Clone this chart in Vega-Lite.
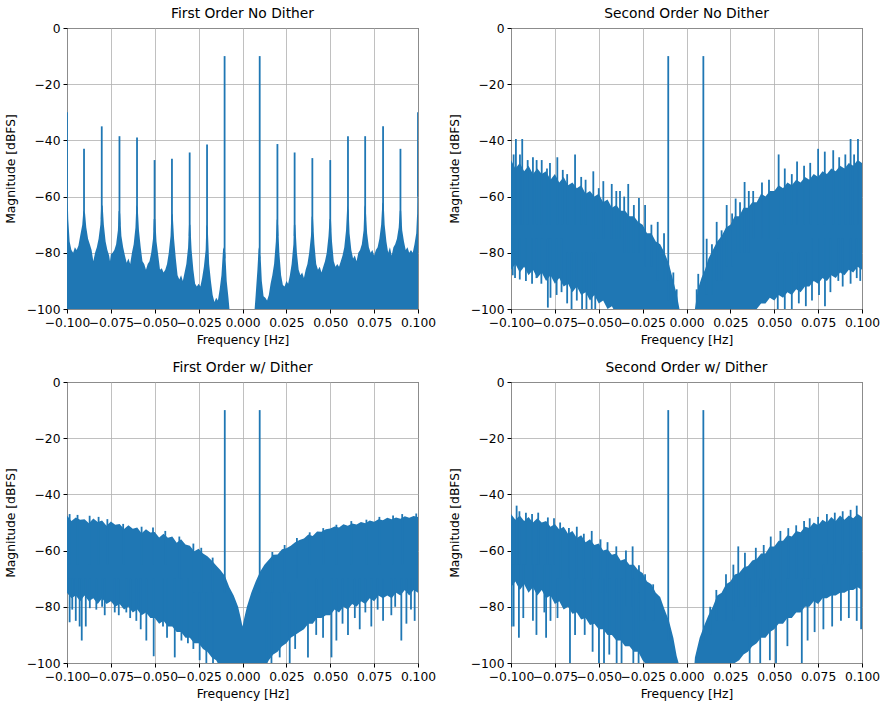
{
"$schema": "https://vega.github.io/schema/vega-lite/v6.json",
"background": "white",
"padding": {"left": 3, "top": 6, "right": 2, "bottom": 3},
"datasets": {
"band": [
{"p":1,"f":-0.1,"hi":-30,"lo":-101},{"p":1,"f":-0.0997,"hi":-58,"lo":-101},{"p":1,"f":-0.0993,"hi":-68,"lo":-101},{"p":1,"f":-0.0985,"hi":-76,"lo":-101},{"p":1,"f":-0.0975,"hi":-79,"lo":-101},{"p":1,"f":-0.0965,"hi":-80,"lo":-101},{"p":1,"f":-0.0955,"hi":-78,"lo":-101},{"p":1,"f":-0.0945,"hi":-79,"lo":-101},{"p":1,"f":-0.0935,"hi":-77.5,"lo":-101},{"p":1,"f":-0.0925,"hi":-74,"lo":-101},{"p":1,"f":-0.0913,"hi":-70,"lo":-101},{"p":1,"f":-0.0907,"hi":-65,"lo":-101},{"p":1,"f":-0.0897,"hi":-66,"lo":-101},{"p":1,"f":-0.089,"hi":-71,"lo":-101},{"p":1,"f":-0.088,"hi":-75,"lo":-101},{"p":1,"f":-0.087,"hi":-77,"lo":-101},{"p":1,"f":-0.086,"hi":-79,"lo":-101},{"p":1,"f":-0.085,"hi":-83,"lo":-101},{"p":1,"f":-0.084,"hi":-80,"lo":-101},{"p":1,"f":-0.083,"hi":-78,"lo":-101},{"p":1,"f":-0.082,"hi":-75,"lo":-101},{"p":1,"f":-0.081,"hi":-70,"lo":-101},{"p":1,"f":-0.0806,"hi":-64,"lo":-101},{"p":1,"f":-0.0797,"hi":-63,"lo":-101},{"p":1,"f":-0.079,"hi":-70,"lo":-101},{"p":1,"f":-0.078,"hi":-76,"lo":-101},{"p":1,"f":-0.077,"hi":-79,"lo":-101},{"p":1,"f":-0.076,"hi":-81,"lo":-101},{"p":1,"f":-0.0755,"hi":-83,"lo":-101},{"p":1,"f":-0.075,"hi":-80.5,"lo":-101},{"p":1,"f":-0.074,"hi":-80,"lo":-101},{"p":1,"f":-0.073,"hi":-79,"lo":-101},{"p":1,"f":-0.072,"hi":-77,"lo":-101},{"p":1,"f":-0.071,"hi":-72,"lo":-101},{"p":1,"f":-0.0706,"hi":-65,"lo":-101},{"p":1,"f":-0.0697,"hi":-66,"lo":-101},{"p":1,"f":-0.069,"hi":-74,"lo":-101},{"p":1,"f":-0.068,"hi":-78,"lo":-101},{"p":1,"f":-0.067,"hi":-81,"lo":-101},{"p":1,"f":-0.066,"hi":-83.5,"lo":-101},{"p":1,"f":-0.065,"hi":-82,"lo":-101},{"p":1,"f":-0.064,"hi":-84,"lo":-101},{"p":1,"f":-0.063,"hi":-80,"lo":-101},{"p":1,"f":-0.062,"hi":-77,"lo":-101},{"p":1,"f":-0.061,"hi":-71,"lo":-101},{"p":1,"f":-0.0605,"hi":-63,"lo":-101},{"p":1,"f":-0.0597,"hi":-64,"lo":-101},{"p":1,"f":-0.059,"hi":-72,"lo":-101},{"p":1,"f":-0.058,"hi":-78,"lo":-101},{"p":1,"f":-0.057,"hi":-83,"lo":-101},{"p":1,"f":-0.056,"hi":-84,"lo":-101},{"p":1,"f":-0.055,"hi":-86,"lo":-101},{"p":1,"f":-0.054,"hi":-84,"lo":-101},{"p":1,"f":-0.053,"hi":-83,"lo":-101},{"p":1,"f":-0.052,"hi":-80,"lo":-101},{"p":1,"f":-0.051,"hi":-75,"lo":-101},{"p":1,"f":-0.0506,"hi":-68,"lo":-101},{"p":1,"f":-0.0497,"hi":-68,"lo":-101},{"p":1,"f":-0.049,"hi":-76,"lo":-101},{"p":1,"f":-0.048,"hi":-81,"lo":-101},{"p":1,"f":-0.047,"hi":-86,"lo":-101},{"p":1,"f":-0.046,"hi":-85.5,"lo":-101},{"p":1,"f":-0.045,"hi":-87,"lo":-101},{"p":1,"f":-0.044,"hi":-86,"lo":-101},{"p":1,"f":-0.043,"hi":-84,"lo":-101},{"p":1,"f":-0.042,"hi":-80,"lo":-101},{"p":1,"f":-0.041,"hi":-74,"lo":-101},{"p":1,"f":-0.0406,"hi":-67,"lo":-101},{"p":1,"f":-0.0398,"hi":-66,"lo":-101},{"p":1,"f":-0.039,"hi":-75,"lo":-101},{"p":1,"f":-0.038,"hi":-82,"lo":-101},{"p":1,"f":-0.037,"hi":-88,"lo":-101},{"p":1,"f":-0.036,"hi":-89.5,"lo":-101},{"p":1,"f":-0.035,"hi":-88,"lo":-101},{"p":1,"f":-0.034,"hi":-90,"lo":-101},{"p":1,"f":-0.033,"hi":-87,"lo":-101},{"p":1,"f":-0.032,"hi":-84,"lo":-101},{"p":1,"f":-0.031,"hi":-78,"lo":-101},{"p":1,"f":-0.0305,"hi":-70,"lo":-101},{"p":1,"f":-0.0297,"hi":-70,"lo":-101},{"p":1,"f":-0.029,"hi":-79,"lo":-101},{"p":1,"f":-0.028,"hi":-86,"lo":-101},{"p":1,"f":-0.027,"hi":-91,"lo":-101},{"p":1,"f":-0.026,"hi":-92,"lo":-101},{"p":1,"f":-0.025,"hi":-91,"lo":-101},{"p":1,"f":-0.024,"hi":-92,"lo":-101},{"p":1,"f":-0.023,"hi":-89,"lo":-101},{"p":1,"f":-0.022,"hi":-85,"lo":-101},{"p":1,"f":-0.021,"hi":-79,"lo":-101},{"p":1,"f":-0.0206,"hi":-70,"lo":-101},{"p":1,"f":-0.0198,"hi":-71,"lo":-101},{"p":1,"f":-0.019,"hi":-84,"lo":-101},{"p":1,"f":-0.018,"hi":-90,"lo":-101},{"p":1,"f":-0.017,"hi":-95,"lo":-101},{"p":1,"f":-0.016,"hi":-97.5,"lo":-101},{"p":1,"f":-0.015,"hi":-96,"lo":-101},{"p":1,"f":-0.014,"hi":-97,"lo":-101},{"p":1,"f":-0.013,"hi":-93,"lo":-101},{"p":1,"f":-0.012,"hi":-88,"lo":-101},{"p":1,"f":-0.011,"hi":-78,"lo":-101},{"p":1,"f":-0.0098,"hi":-80,"lo":-101},{"p":1,"f":-0.009,"hi":-90,"lo":-101},{"p":1,"f":-0.008,"hi":-96,"lo":-101},{"p":1,"f":-0.0073,"hi":-101,"lo":-101},{"p":1,"f":0.0068,"hi":-101,"lo":-101},{"p":1,"f":0.0075,"hi":-95,"lo":-101},{"p":1,"f":0.0085,"hi":-86,"lo":-101},{"p":1,"f":0.0092,"hi":-78,"lo":-101},{"p":1,"f":0.0104,"hi":-82,"lo":-101},{"p":1,"f":0.011,"hi":-90,"lo":-101},{"p":1,"f":0.012,"hi":-95.5,"lo":-101},{"p":1,"f":0.013,"hi":-96,"lo":-101},{"p":1,"f":0.014,"hi":-97,"lo":-101},{"p":1,"f":0.015,"hi":-95,"lo":-101},{"p":1,"f":0.016,"hi":-91,"lo":-101},{"p":1,"f":0.017,"hi":-88,"lo":-101},{"p":1,"f":0.018,"hi":-84,"lo":-101},{"p":1,"f":0.019,"hi":-76,"lo":-101},{"p":1,"f":0.0195,"hi":-68,"lo":-101},{"p":1,"f":0.0203,"hi":-70,"lo":-101},{"p":1,"f":0.021,"hi":-80,"lo":-101},{"p":1,"f":0.022,"hi":-88,"lo":-101},{"p":1,"f":0.023,"hi":-91.5,"lo":-101},{"p":1,"f":0.024,"hi":-92,"lo":-101},{"p":1,"f":0.025,"hi":-90,"lo":-101},{"p":1,"f":0.026,"hi":-91,"lo":-101},{"p":1,"f":0.027,"hi":-88,"lo":-101},{"p":1,"f":0.028,"hi":-84,"lo":-101},{"p":1,"f":0.029,"hi":-77,"lo":-101},{"p":1,"f":0.0293,"hi":-70,"lo":-101},{"p":1,"f":0.0301,"hi":-70,"lo":-101},{"p":1,"f":0.031,"hi":-80,"lo":-101},{"p":1,"f":0.032,"hi":-86,"lo":-101},{"p":1,"f":0.033,"hi":-88,"lo":-101},{"p":1,"f":0.034,"hi":-87,"lo":-101},{"p":1,"f":0.035,"hi":-89,"lo":-101},{"p":1,"f":0.036,"hi":-86,"lo":-101},{"p":1,"f":0.037,"hi":-84,"lo":-101},{"p":1,"f":0.038,"hi":-80,"lo":-101},{"p":1,"f":0.039,"hi":-74,"lo":-101},{"p":1,"f":0.0394,"hi":-67,"lo":-101},{"p":1,"f":0.0402,"hi":-68,"lo":-101},{"p":1,"f":0.041,"hi":-77,"lo":-101},{"p":1,"f":0.042,"hi":-84,"lo":-101},{"p":1,"f":0.043,"hi":-86,"lo":-101},{"p":1,"f":0.044,"hi":-85,"lo":-101},{"p":1,"f":0.045,"hi":-87,"lo":-101},{"p":1,"f":0.046,"hi":-85,"lo":-101},{"p":1,"f":0.047,"hi":-83,"lo":-101},{"p":1,"f":0.048,"hi":-80,"lo":-101},{"p":1,"f":0.049,"hi":-74,"lo":-101},{"p":1,"f":0.0496,"hi":-68,"lo":-101},{"p":1,"f":0.0504,"hi":-68,"lo":-101},{"p":1,"f":0.051,"hi":-76,"lo":-101},{"p":1,"f":0.052,"hi":-83,"lo":-101},{"p":1,"f":0.053,"hi":-85,"lo":-101},{"p":1,"f":0.054,"hi":-84,"lo":-101},{"p":1,"f":0.055,"hi":-85,"lo":-101},{"p":1,"f":0.056,"hi":-83,"lo":-101},{"p":1,"f":0.057,"hi":-81,"lo":-101},{"p":1,"f":0.058,"hi":-78,"lo":-101},{"p":1,"f":0.059,"hi":-72,"lo":-101},{"p":1,"f":0.0597,"hi":-63,"lo":-101},{"p":1,"f":0.0605,"hi":-65,"lo":-101},{"p":1,"f":0.061,"hi":-73,"lo":-101},{"p":1,"f":0.062,"hi":-79,"lo":-101},{"p":1,"f":0.063,"hi":-82,"lo":-101},{"p":1,"f":0.064,"hi":-81,"lo":-101},{"p":1,"f":0.065,"hi":-83,"lo":-101},{"p":1,"f":0.066,"hi":-80,"lo":-101},{"p":1,"f":0.067,"hi":-79,"lo":-101},{"p":1,"f":0.068,"hi":-77,"lo":-101},{"p":1,"f":0.069,"hi":-72,"lo":-101},{"p":1,"f":0.0695,"hi":-63,"lo":-101},{"p":1,"f":0.0703,"hi":-65,"lo":-101},{"p":1,"f":0.071,"hi":-73,"lo":-101},{"p":1,"f":0.072,"hi":-78,"lo":-101},{"p":1,"f":0.073,"hi":-80,"lo":-101},{"p":1,"f":0.074,"hi":-79,"lo":-101},{"p":1,"f":0.075,"hi":-81,"lo":-101},{"p":1,"f":0.076,"hi":-79,"lo":-101},{"p":1,"f":0.077,"hi":-78,"lo":-101},{"p":1,"f":0.078,"hi":-75,"lo":-101},{"p":1,"f":0.079,"hi":-70,"lo":-101},{"p":1,"f":0.0797,"hi":-62,"lo":-101},{"p":1,"f":0.0805,"hi":-63,"lo":-101},{"p":1,"f":0.081,"hi":-70,"lo":-101},{"p":1,"f":0.082,"hi":-76,"lo":-101},{"p":1,"f":0.083,"hi":-80,"lo":-101},{"p":1,"f":0.084,"hi":-78,"lo":-101},{"p":1,"f":0.085,"hi":-81,"lo":-101},{"p":1,"f":0.086,"hi":-78,"lo":-101},{"p":1,"f":0.087,"hi":-77,"lo":-101},{"p":1,"f":0.088,"hi":-75,"lo":-101},{"p":1,"f":0.089,"hi":-71,"lo":-101},{"p":1,"f":0.0896,"hi":-65,"lo":-101},{"p":1,"f":0.0904,"hi":-65,"lo":-101},{"p":1,"f":0.091,"hi":-72,"lo":-101},{"p":1,"f":0.092,"hi":-76,"lo":-101},{"p":1,"f":0.093,"hi":-79,"lo":-101},{"p":1,"f":0.094,"hi":-78,"lo":-101},{"p":1,"f":0.095,"hi":-80,"lo":-101},{"p":1,"f":0.096,"hi":-79,"lo":-101},{"p":1,"f":0.097,"hi":-80,"lo":-101},{"p":1,"f":0.098,"hi":-77,"lo":-101},{"p":1,"f":0.099,"hi":-73,"lo":-101},{"p":1,"f":0.0995,"hi":-66,"lo":-101},{"p":1,"f":0.1,"hi":-30,"lo":-101},

{"p":2,"f":-0.1,"hi":-47,"lo":-86},{"p":2,"f":-0.0975,"hi":-50,"lo":-84},{"p":2,"f":-0.095,"hi":-48,"lo":-87},{"p":2,"f":-0.0925,"hi":-51,"lo":-85},{"p":2,"f":-0.09,"hi":-49,"lo":-88},{"p":2,"f":-0.0875,"hi":-52,"lo":-86},{"p":2,"f":-0.085,"hi":-50,"lo":-89},{"p":2,"f":-0.0825,"hi":-52,"lo":-87},{"p":2,"f":-0.08,"hi":-51,"lo":-90},{"p":2,"f":-0.0775,"hi":-54,"lo":-88},{"p":2,"f":-0.075,"hi":-52,"lo":-91},{"p":2,"f":-0.0725,"hi":-55,"lo":-89},{"p":2,"f":-0.07,"hi":-53,"lo":-92},{"p":2,"f":-0.0675,"hi":-56,"lo":-91},{"p":2,"f":-0.065,"hi":-55,"lo":-94},{"p":2,"f":-0.0625,"hi":-57,"lo":-92},{"p":2,"f":-0.06,"hi":-56,"lo":-95},{"p":2,"f":-0.0575,"hi":-59,"lo":-94},{"p":2,"f":-0.055,"hi":-58,"lo":-97},{"p":2,"f":-0.0525,"hi":-60,"lo":-95},{"p":2,"f":-0.05,"hi":-59,"lo":-98},{"p":2,"f":-0.0475,"hi":-62,"lo":-97},{"p":2,"f":-0.045,"hi":-61,"lo":-100},{"p":2,"f":-0.0425,"hi":-64,"lo":-99},{"p":2,"f":-0.04,"hi":-63,"lo":-102},{"p":2,"f":-0.0375,"hi":-65,"lo":-104},{"p":2,"f":-0.035,"hi":-65,"lo":-105},{"p":2,"f":-0.0325,"hi":-67,"lo":-105},{"p":2,"f":-0.03,"hi":-67,"lo":-105},{"p":2,"f":-0.0275,"hi":-69,"lo":-105},{"p":2,"f":-0.025,"hi":-70,"lo":-105},{"p":2,"f":-0.0225,"hi":-73,"lo":-105},{"p":2,"f":-0.02,"hi":-73,"lo":-105},{"p":2,"f":-0.0175,"hi":-76,"lo":-105},{"p":2,"f":-0.015,"hi":-77,"lo":-105},{"p":2,"f":-0.0125,"hi":-80,"lo":-105},{"p":2,"f":-0.01,"hi":-84,"lo":-105},{"p":2,"f":-0.0075,"hi":-90,"lo":-105},{"p":2,"f":-0.0055,"hi":-95,"lo":-105},{"p":2,"f":-0.004,"hi":-100,"lo":-105},{"p":2,"f":-0.0035,"hi":-105,"lo":-105},{"p":2,"f":0.004,"hi":-105,"lo":-105},{"p":2,"f":0.0048,"hi":-100,"lo":-105},{"p":2,"f":0.0065,"hi":-93,"lo":-105},{"p":2,"f":0.0085,"hi":-89,"lo":-105},{"p":2,"f":0.0105,"hi":-86,"lo":-105},{"p":2,"f":0.0125,"hi":-82,"lo":-105},{"p":2,"f":0.015,"hi":-79,"lo":-105},{"p":2,"f":0.0175,"hi":-76,"lo":-105},{"p":2,"f":0.02,"hi":-74,"lo":-105},{"p":2,"f":0.0225,"hi":-71,"lo":-105},{"p":2,"f":0.025,"hi":-70,"lo":-105},{"p":2,"f":0.0275,"hi":-67,"lo":-105},{"p":2,"f":0.03,"hi":-67,"lo":-105},{"p":2,"f":0.0325,"hi":-64,"lo":-105},{"p":2,"f":0.035,"hi":-64,"lo":-104},{"p":2,"f":0.0375,"hi":-62,"lo":-101},{"p":2,"f":0.04,"hi":-62,"lo":-100},{"p":2,"f":0.0425,"hi":-59,"lo":-98},{"p":2,"f":0.045,"hi":-60,"lo":-98},{"p":2,"f":0.0475,"hi":-58,"lo":-96},{"p":2,"f":0.05,"hi":-58,"lo":-97},{"p":2,"f":0.0525,"hi":-56,"lo":-95},{"p":2,"f":0.055,"hi":-57,"lo":-96},{"p":2,"f":0.0575,"hi":-55,"lo":-94},{"p":2,"f":0.06,"hi":-56,"lo":-95},{"p":2,"f":0.0625,"hi":-54,"lo":-93},{"p":2,"f":0.065,"hi":-55,"lo":-94},{"p":2,"f":0.0675,"hi":-53,"lo":-92},{"p":2,"f":0.07,"hi":-54,"lo":-92},{"p":2,"f":0.0725,"hi":-52,"lo":-90},{"p":2,"f":0.075,"hi":-53,"lo":-91},{"p":2,"f":0.0775,"hi":-51,"lo":-89},{"p":2,"f":0.08,"hi":-52,"lo":-90},{"p":2,"f":0.0825,"hi":-50,"lo":-88},{"p":2,"f":0.085,"hi":-51,"lo":-89},{"p":2,"f":0.0875,"hi":-49,"lo":-87},{"p":2,"f":0.09,"hi":-50,"lo":-88},{"p":2,"f":0.0925,"hi":-48,"lo":-86},{"p":2,"f":0.095,"hi":-49,"lo":-87},{"p":2,"f":0.0975,"hi":-47,"lo":-85},{"p":2,"f":0.1,"hi":-48,"lo":-86},

{"p":3,"f":-0.1,"hi":-47.5,"lo":-75},{"p":3,"f":-0.0975,"hi":-49.5,"lo":-77},{"p":3,"f":-0.095,"hi":-48.2,"lo":-76},{"p":3,"f":-0.0925,"hi":-49,"lo":-78},{"p":3,"f":-0.09,"hi":-48.8,"lo":-76},{"p":3,"f":-0.0875,"hi":-50.3,"lo":-78},{"p":3,"f":-0.085,"hi":-48.6,"lo":-77},{"p":3,"f":-0.0825,"hi":-49.8,"lo":-79},{"p":3,"f":-0.08,"hi":-49.3,"lo":-77},{"p":3,"f":-0.0775,"hi":-51.2,"lo":-79},{"p":3,"f":-0.075,"hi":-49.6,"lo":-78},{"p":3,"f":-0.0725,"hi":-50.8,"lo":-80},{"p":3,"f":-0.07,"hi":-50.5,"lo":-79},{"p":3,"f":-0.0675,"hi":-52.3,"lo":-81},{"p":3,"f":-0.065,"hi":-51,"lo":-80},{"p":3,"f":-0.0625,"hi":-52.2,"lo":-82},{"p":3,"f":-0.06,"hi":-51.8,"lo":-81},{"p":3,"f":-0.0575,"hi":-53.8,"lo":-83},{"p":3,"f":-0.055,"hi":-52.4,"lo":-82},{"p":3,"f":-0.0525,"hi":-53.6,"lo":-84},{"p":3,"f":-0.05,"hi":-53.4,"lo":-84},{"p":3,"f":-0.0475,"hi":-55.3,"lo":-86},{"p":3,"f":-0.045,"hi":-54,"lo":-85},{"p":3,"f":-0.0425,"hi":-55.4,"lo":-87},{"p":3,"f":-0.04,"hi":-55,"lo":-87},{"p":3,"f":-0.0375,"hi":-57.2,"lo":-89},{"p":3,"f":-0.035,"hi":-56,"lo":-89},{"p":3,"f":-0.0325,"hi":-57.8,"lo":-91},{"p":3,"f":-0.03,"hi":-58.3,"lo":-91},{"p":3,"f":-0.0275,"hi":-60.2,"lo":-93},{"p":3,"f":-0.025,"hi":-59.3,"lo":-93},{"p":3,"f":-0.0225,"hi":-61,"lo":-95},{"p":3,"f":-0.02,"hi":-62,"lo":-96},{"p":3,"f":-0.0175,"hi":-63.5,"lo":-98},{"p":3,"f":-0.015,"hi":-65.3,"lo":-99},{"p":3,"f":-0.0125,"hi":-67,"lo":-102},{"p":3,"f":-0.01,"hi":-69,"lo":-105},{"p":3,"f":-0.0075,"hi":-73,"lo":-105},{"p":3,"f":-0.005,"hi":-76,"lo":-105},{"p":3,"f":-0.0025,"hi":-80,"lo":-105},{"p":3,"f":-0.001,"hi":-84,"lo":-105},{"p":3,"f":0,"hi":-87,"lo":-105},{"p":3,"f":0.001,"hi":-84,"lo":-105},{"p":3,"f":0.0025,"hi":-80,"lo":-105},{"p":3,"f":0.005,"hi":-75,"lo":-105},{"p":3,"f":0.0075,"hi":-71,"lo":-105},{"p":3,"f":0.01,"hi":-67.5,"lo":-105},{"p":3,"f":0.0125,"hi":-65,"lo":-102},{"p":3,"f":0.015,"hi":-63.3,"lo":-99},{"p":3,"f":0.0175,"hi":-61.5,"lo":-97},{"p":3,"f":0.02,"hi":-61.4,"lo":-96},{"p":3,"f":0.0225,"hi":-59.5,"lo":-94},{"p":3,"f":0.025,"hi":-59.2,"lo":-93},{"p":3,"f":0.0275,"hi":-58.3,"lo":-91},{"p":3,"f":0.03,"hi":-57,"lo":-90},{"p":3,"f":0.0325,"hi":-56.2,"lo":-89},{"p":3,"f":0.035,"hi":-55.7,"lo":-88},{"p":3,"f":0.0375,"hi":-54.3,"lo":-86},{"p":3,"f":0.04,"hi":-54.8,"lo":-86},{"p":3,"f":0.0425,"hi":-53.2,"lo":-84},{"p":3,"f":0.045,"hi":-53.3,"lo":-84},{"p":3,"f":0.0475,"hi":-52.4,"lo":-83},{"p":3,"f":0.05,"hi":-52.1,"lo":-83},{"p":3,"f":0.0525,"hi":-51.4,"lo":-81},{"p":3,"f":0.055,"hi":-51.8,"lo":-82},{"p":3,"f":0.0575,"hi":-50.6,"lo":-80},{"p":3,"f":0.06,"hi":-51.2,"lo":-81},{"p":3,"f":0.0625,"hi":-50.4,"lo":-79},{"p":3,"f":0.065,"hi":-50.7,"lo":-80},{"p":3,"f":0.0675,"hi":-49.8,"lo":-78},{"p":3,"f":0.07,"hi":-50.3,"lo":-79},{"p":3,"f":0.0725,"hi":-49.3,"lo":-77},{"p":3,"f":0.075,"hi":-49.7,"lo":-78},{"p":3,"f":0.0775,"hi":-48.8,"lo":-76},{"p":3,"f":0.08,"hi":-49.2,"lo":-77},{"p":3,"f":0.0825,"hi":-48.3,"lo":-76},{"p":3,"f":0.085,"hi":-48.8,"lo":-77},{"p":3,"f":0.0875,"hi":-48.2,"lo":-75},{"p":3,"f":0.09,"hi":-48.7,"lo":-76},{"p":3,"f":0.0925,"hi":-47.8,"lo":-74},{"p":3,"f":0.095,"hi":-48.3,"lo":-76},{"p":3,"f":0.0975,"hi":-47.7,"lo":-74},{"p":3,"f":0.1,"hi":-48,"lo":-75},

{"p":4,"f":-0.1,"hi":-47,"lo":-73},{"p":4,"f":-0.0975,"hi":-49,"lo":-71},{"p":4,"f":-0.095,"hi":-47.5,"lo":-74},{"p":4,"f":-0.0925,"hi":-49.5,"lo":-72},{"p":4,"f":-0.09,"hi":-48,"lo":-75},{"p":4,"f":-0.0875,"hi":-50,"lo":-73},{"p":4,"f":-0.085,"hi":-48.5,"lo":-76},{"p":4,"f":-0.0825,"hi":-50,"lo":-74},{"p":4,"f":-0.08,"hi":-49.5,"lo":-77},{"p":4,"f":-0.0775,"hi":-51.5,"lo":-76},{"p":4,"f":-0.075,"hi":-50.5,"lo":-79},{"p":4,"f":-0.0725,"hi":-52.5,"lo":-78},{"p":4,"f":-0.07,"hi":-51.5,"lo":-81},{"p":4,"f":-0.0675,"hi":-54,"lo":-80},{"p":4,"f":-0.065,"hi":-53,"lo":-82.5},{"p":4,"f":-0.0625,"hi":-55.5,"lo":-82},{"p":4,"f":-0.06,"hi":-54.5,"lo":-84.5},{"p":4,"f":-0.0575,"hi":-57,"lo":-84},{"p":4,"f":-0.055,"hi":-56,"lo":-86.5},{"p":4,"f":-0.0525,"hi":-58,"lo":-86},{"p":4,"f":-0.05,"hi":-57.5,"lo":-88},{"p":4,"f":-0.0475,"hi":-60,"lo":-88},{"p":4,"f":-0.045,"hi":-59.5,"lo":-90},{"p":4,"f":-0.0425,"hi":-61.5,"lo":-90},{"p":4,"f":-0.04,"hi":-61,"lo":-92},{"p":4,"f":-0.0375,"hi":-63.5,"lo":-92},{"p":4,"f":-0.035,"hi":-63,"lo":-94},{"p":4,"f":-0.0325,"hi":-65,"lo":-94},{"p":4,"f":-0.03,"hi":-65,"lo":-96},{"p":4,"f":-0.0275,"hi":-67,"lo":-96},{"p":4,"f":-0.025,"hi":-68,"lo":-99},{"p":4,"f":-0.0225,"hi":-71,"lo":-101},{"p":4,"f":-0.02,"hi":-72,"lo":-104},{"p":4,"f":-0.0175,"hi":-75,"lo":-105},{"p":4,"f":-0.015,"hi":-76.5,"lo":-105},{"p":4,"f":-0.0125,"hi":-81,"lo":-105},{"p":4,"f":-0.01,"hi":-85,"lo":-105},{"p":4,"f":-0.0075,"hi":-91,"lo":-105},{"p":4,"f":-0.0056,"hi":-97.5,"lo":-105},{"p":4,"f":-0.0045,"hi":-100,"lo":-105},{"p":4,"f":-0.004,"hi":-105,"lo":-105},{"p":4,"f":0.004,"hi":-105,"lo":-105},{"p":4,"f":0.0048,"hi":-98,"lo":-105},{"p":4,"f":0.0075,"hi":-91,"lo":-105},{"p":4,"f":0.0105,"hi":-86,"lo":-105},{"p":4,"f":0.0125,"hi":-83,"lo":-105},{"p":4,"f":0.015,"hi":-80,"lo":-105},{"p":4,"f":0.0175,"hi":-76,"lo":-105},{"p":4,"f":0.02,"hi":-75,"lo":-105},{"p":4,"f":0.0225,"hi":-72,"lo":-105},{"p":4,"f":0.025,"hi":-71,"lo":-102},{"p":4,"f":0.0275,"hi":-68.5,"lo":-100},{"p":4,"f":0.03,"hi":-68,"lo":-99},{"p":4,"f":0.0325,"hi":-66,"lo":-97},{"p":4,"f":0.035,"hi":-65.5,"lo":-96},{"p":4,"f":0.0375,"hi":-63.5,"lo":-94},{"p":4,"f":0.04,"hi":-63,"lo":-93},{"p":4,"f":0.0425,"hi":-61,"lo":-91},{"p":4,"f":0.045,"hi":-61,"lo":-91},{"p":4,"f":0.0475,"hi":-58.5,"lo":-89},{"p":4,"f":0.05,"hi":-58.5,"lo":-88},{"p":4,"f":0.0525,"hi":-56.5,"lo":-86},{"p":4,"f":0.055,"hi":-56.5,"lo":-86},{"p":4,"f":0.0575,"hi":-54.5,"lo":-84},{"p":4,"f":0.06,"hi":-55,"lo":-84},{"p":4,"f":0.0625,"hi":-53,"lo":-82},{"p":4,"f":0.065,"hi":-53.5,"lo":-82},{"p":4,"f":0.0675,"hi":-51.5,"lo":-80},{"p":4,"f":0.07,"hi":-52,"lo":-80},{"p":4,"f":0.0725,"hi":-50,"lo":-78},{"p":4,"f":0.075,"hi":-51,"lo":-79},{"p":4,"f":0.0775,"hi":-49,"lo":-77},{"p":4,"f":0.08,"hi":-50,"lo":-77},{"p":4,"f":0.0825,"hi":-48,"lo":-76},{"p":4,"f":0.085,"hi":-49.5,"lo":-76},{"p":4,"f":0.0875,"hi":-47.5,"lo":-75},{"p":4,"f":0.09,"hi":-49,"lo":-75},{"p":4,"f":0.0925,"hi":-47.5,"lo":-74},{"p":4,"f":0.095,"hi":-48.5,"lo":-74},{"p":4,"f":0.0975,"hi":-47,"lo":-73},{"p":4,"f":0.1,"hi":-48,"lo":-74}
],
"spk": [
{"p":1,"f":-0.1,"top":-30,"bot":-60},{"p":1,"f":-0.0903,"top":-43,"bot":-70},{"p":1,"f":-0.0802,"top":-35,"bot":-68},{"p":1,"f":-0.0701,"top":-38.5,"bot":-70},{"p":1,"f":-0.0601,"top":-39,"bot":-68},{"p":1,"f":-0.0501,"top":-47,"bot":-72},{"p":1,"f":-0.0402,"top":-46.5,"bot":-72},{"p":1,"f":-0.0301,"top":-44.3,"bot":-74},{"p":1,"f":-0.0202,"top":-41.5,"bot":-76},{"p":1,"f":-0.0102,"top":-10,"bot":-82},{"p":1,"f":0.0098,"top":-10,"bot":-82},{"p":1,"f":0.0199,"top":-41.3,"bot":-74},{"p":1,"f":0.0297,"top":-44.3,"bot":-74},{"p":1,"f":0.0398,"top":-46.3,"bot":-72},{"p":1,"f":0.05,"top":-47,"bot":-72},{"p":1,"f":0.0601,"top":-38.5,"bot":-68},{"p":1,"f":0.0699,"top":-38.5,"bot":-68},{"p":1,"f":0.0801,"top":-35,"bot":-66},{"p":1,"f":0.09,"top":-43,"bot":-70},{"p":1,"f":0.1,"top":-30,"bot":-60},

{"p":2,"f":-0.0104,"top":-10,"bot":-97},{"p":2,"f":0.0096,"top":-10,"bot":-90},
{"p":2,"f":-0.0985,"top":-45,"bot":-70},{"p":2,"f":-0.0972,"top":-39.5,"bot":-70},{"p":2,"f":-0.0949,"top":-45,"bot":-70},{"p":2,"f":-0.0936,"top":-39.5,"bot":-70},{"p":2,"f":-0.0905,"top":-47,"bot":-70},{"p":2,"f":-0.0875,"top":-46,"bot":-70},{"p":2,"f":-0.0854,"top":-47,"bot":-70},{"p":2,"f":-0.0825,"top":-47,"bot":-70},{"p":2,"f":-0.0795,"top":-50,"bot":-70},{"p":2,"f":-0.0778,"top":-48,"bot":-70},{"p":2,"f":-0.0736,"top":-46,"bot":-70},{"p":2,"f":-0.0705,"top":-50.5,"bot":-70},{"p":2,"f":-0.068,"top":-52,"bot":-70},{"p":2,"f":-0.0635,"top":-45,"bot":-70},{"p":2,"f":-0.06,"top":-53,"bot":-70},{"p":2,"f":-0.0575,"top":-54,"bot":-70},{"p":2,"f":-0.0531,"top":-51,"bot":-75},{"p":2,"f":-0.05,"top":-57,"bot":-75},{"p":2,"f":-0.0474,"top":-54.5,"bot":-75},{"p":2,"f":-0.0426,"top":-55.5,"bot":-75},{"p":2,"f":-0.04,"top":-58,"bot":-75},{"p":2,"f":-0.0379,"top":-58,"bot":-75},{"p":2,"f":-0.0355,"top":-60,"bot":-80},{"p":2,"f":-0.0332,"top":-55.5,"bot":-80},{"p":2,"f":-0.03,"top":-63,"bot":-80},{"p":2,"f":-0.0271,"top":-60.5,"bot":-80},{"p":2,"f":-0.0236,"top":-63,"bot":-85},{"p":2,"f":-0.02,"top":-70,"bot":-85},{"p":2,"f":-0.0164,"top":-69,"bot":-90},{"p":2,"f":-0.0128,"top":-73,"bot":-90},{"p":2,"f":-0.0075,"top":-87,"bot":-100},{"p":2,"f":-0.0056,"top":-93,"bot":-100},
{"p":2,"f":0.0058,"top":-93,"bot":-100},{"p":2,"f":0.0067,"top":-87.5,"bot":-100},{"p":2,"f":0.0115,"top":-75,"bot":-95},{"p":2,"f":0.0145,"top":-77,"bot":-95},{"p":2,"f":0.0172,"top":-69,"bot":-90},{"p":2,"f":0.02,"top":-72,"bot":-90},{"p":2,"f":0.0229,"top":-63,"bot":-85},{"p":2,"f":0.026,"top":-66,"bot":-85},{"p":2,"f":0.028,"top":-60.7,"bot":-80},{"p":2,"f":0.0305,"top":-62,"bot":-80},{"p":2,"f":0.0331,"top":-54.8,"bot":-80},{"p":2,"f":0.0355,"top":-58,"bot":-80},{"p":2,"f":0.038,"top":-58,"bot":-75},{"p":2,"f":0.043,"top":-55,"bot":-75},{"p":2,"f":0.047,"top":-54,"bot":-75},{"p":2,"f":0.0525,"top":-45,"bot":-75},{"p":2,"f":0.056,"top":-50,"bot":-70},{"p":2,"f":0.06,"top":-52,"bot":-70},{"p":2,"f":0.063,"top":-47.5,"bot":-70},{"p":2,"f":0.067,"top":-49,"bot":-70},{"p":2,"f":0.0705,"top":-48,"bot":-70},{"p":2,"f":0.075,"top":-43,"bot":-70},{"p":2,"f":0.0788,"top":-44,"bot":-70},{"p":2,"f":0.0836,"top":-43.5,"bot":-70},{"p":2,"f":0.087,"top":-46,"bot":-70},{"p":2,"f":0.0905,"top":-45,"bot":-70},{"p":2,"f":0.0935,"top":-39.5,"bot":-70},{"p":2,"f":0.0955,"top":-45,"bot":-70},{"p":2,"f":0.0977,"top":-39.5,"bot":-70},
{"p":2,"f":-0.099,"top":-75,"bot":-88},{"p":2,"f":-0.0977,"top":-75,"bot":-89},{"p":2,"f":-0.095,"top":-75,"bot":-89.5},{"p":2,"f":-0.0915,"top":-75,"bot":-90},{"p":2,"f":-0.088,"top":-75,"bot":-91},{"p":2,"f":-0.0855,"top":-75,"bot":-89},{"p":2,"f":-0.0827,"top":-75,"bot":-91},{"p":2,"f":-0.079,"top":-75,"bot":-99.5},{"p":2,"f":-0.0775,"top":-75,"bot":-96},{"p":2,"f":-0.074,"top":-75,"bot":-95},{"p":2,"f":-0.0712,"top":-75,"bot":-94},{"p":2,"f":-0.068,"top":-80,"bot":-98},{"p":2,"f":-0.0655,"top":-80,"bot":-101},{"p":2,"f":-0.0625,"top":-80,"bot":-97},{"p":2,"f":-0.0595,"top":-80,"bot":-101},{"p":2,"f":-0.057,"top":-80,"bot":-101},{"p":2,"f":-0.054,"top":-80,"bot":-101},{"p":2,"f":-0.052,"top":-80,"bot":-101},
{"p":2,"f":0.052,"top":-80,"bot":-101},{"p":2,"f":0.056,"top":-80,"bot":-101},{"p":2,"f":0.06,"top":-80,"bot":-101},{"p":2,"f":0.064,"top":-80,"bot":-98},{"p":2,"f":0.068,"top":-80,"bot":-99},{"p":2,"f":0.0715,"top":-75,"bot":-97},{"p":2,"f":0.0755,"top":-75,"bot":-95},{"p":2,"f":0.0789,"top":-75,"bot":-99},{"p":2,"f":0.082,"top":-75,"bot":-94},{"p":2,"f":0.0865,"top":-75,"bot":-90},{"p":2,"f":0.089,"top":-75,"bot":-92},{"p":2,"f":0.0935,"top":-75,"bot":-91},{"p":2,"f":0.097,"top":-75,"bot":-89},{"p":2,"f":0.099,"top":-75,"bot":-90},

{"p":3,"f":-0.0101,"top":-10,"bot":-75},{"p":3,"f":0.0098,"top":-10,"bot":-75},
{"p":3,"f":-0.0985,"top":-47,"bot":-65},{"p":3,"f":-0.094,"top":-47.3,"bot":-65},{"p":3,"f":-0.0871,"top":-47.6,"bot":-65},{"p":3,"f":-0.082,"top":-48,"bot":-65},{"p":3,"f":-0.077,"top":-48.8,"bot":-65},{"p":3,"f":-0.068,"top":-50.5,"bot":-65},{"p":3,"f":-0.0575,"top":-51.5,"bot":-65},{"p":3,"f":-0.051,"top":-51.8,"bot":-65},{"p":3,"f":-0.044,"top":-53,"bot":-65},{"p":3,"f":-0.036,"top":-55,"bot":-70},{"p":3,"f":-0.028,"top":-57.5,"bot":-75},{"p":3,"f":-0.0235,"top":-59,"bot":-75},{"p":3,"f":-0.017,"top":-62.5,"bot":-75},{"p":3,"f":0.017,"top":-60.5,"bot":-75},{"p":3,"f":0.024,"top":-58,"bot":-75},{"p":3,"f":0.031,"top":-55.5,"bot":-70},{"p":3,"f":0.0383,"top":-53.5,"bot":-65},{"p":3,"f":0.046,"top":-52,"bot":-65},{"p":3,"f":0.0535,"top":-50.8,"bot":-65},{"p":3,"f":0.062,"top":-49.5,"bot":-65},{"p":3,"f":0.0706,"top":-49,"bot":-65},{"p":3,"f":0.078,"top":-48,"bot":-65},{"p":3,"f":0.0858,"top":-47.5,"bot":-65},{"p":3,"f":0.091,"top":-47,"bot":-65},{"p":3,"f":0.099,"top":-46.8,"bot":-65},
{"p":3,"f":-0.0985,"top":-70,"bot":-85.5},{"p":3,"f":-0.097,"top":-70,"bot":-81},{"p":3,"f":-0.095,"top":-70,"bot":-85},{"p":3,"f":-0.0928,"top":-70,"bot":-87},{"p":3,"f":-0.0916,"top":-70,"bot":-92},{"p":3,"f":-0.0893,"top":-70,"bot":-87},{"p":3,"f":-0.087,"top":-70,"bot":-80.5},{"p":3,"f":-0.0833,"top":-70,"bot":-81},{"p":3,"f":-0.08,"top":-70,"bot":-80},{"p":3,"f":-0.0785,"top":-70,"bot":-83},{"p":3,"f":-0.0728,"top":-70,"bot":-82},{"p":3,"f":-0.0705,"top":-70,"bot":-83},{"p":3,"f":-0.0662,"top":-70,"bot":-82},{"p":3,"f":-0.064,"top":-70,"bot":-84},{"p":3,"f":-0.0605,"top":-70,"bot":-85},{"p":3,"f":-0.058,"top":-70,"bot":-88},{"p":3,"f":-0.0548,"top":-70,"bot":-92},{"p":3,"f":-0.0506,"top":-70,"bot":-97.6},{"p":3,"f":-0.0453,"top":-70,"bot":-87},{"p":3,"f":-0.043,"top":-70,"bot":-91},{"p":3,"f":-0.0386,"top":-70,"bot":-98},{"p":3,"f":-0.0348,"top":-70,"bot":-92},{"p":3,"f":-0.0311,"top":-70,"bot":-93},{"p":3,"f":-0.028,"top":-75,"bot":-95},{"p":3,"f":-0.0244,"top":-75,"bot":-99},{"p":3,"f":-0.0206,"top":-75,"bot":-101},{"p":3,"f":-0.0168,"top":-75,"bot":-101},
{"p":3,"f":0.0136,"top":-75,"bot":-101},{"p":3,"f":0.0165,"top":-75,"bot":-101},{"p":3,"f":0.0212,"top":-75,"bot":-98},{"p":3,"f":0.0269,"top":-75,"bot":-101},{"p":3,"f":0.03,"top":-75,"bot":-95},{"p":3,"f":0.0373,"top":-70,"bot":-98},{"p":3,"f":0.042,"top":-70,"bot":-90},{"p":3,"f":0.0459,"top":-70,"bot":-91},{"p":3,"f":0.0507,"top":-70,"bot":-98},{"p":3,"f":0.0535,"top":-70,"bot":-92},{"p":3,"f":0.057,"top":-70,"bot":-86},{"p":3,"f":0.0601,"top":-70,"bot":-90},{"p":3,"f":0.064,"top":-70,"bot":-84},{"p":3,"f":0.0668,"top":-70,"bot":-88},{"p":3,"f":0.07,"top":-70,"bot":-82},{"p":3,"f":0.0734,"top":-70,"bot":-87},{"p":3,"f":0.077,"top":-70,"bot":-81},{"p":3,"f":0.0801,"top":-70,"bot":-85},{"p":3,"f":0.0848,"top":-70,"bot":-83},{"p":3,"f":0.087,"top":-70,"bot":-80},{"p":3,"f":0.0905,"top":-70,"bot":-92},{"p":3,"f":0.0934,"top":-70,"bot":-86},{"p":3,"f":0.096,"top":-70,"bot":-81},{"p":3,"f":0.0981,"top":-70,"bot":-85},

{"p":4,"f":-0.0104,"top":-10,"bot":-92},{"p":4,"f":0.0096,"top":-10,"bot":-92},
{"p":4,"f":-0.0968,"top":-44,"bot":-65},{"p":4,"f":-0.0952,"top":-46,"bot":-65},{"p":4,"f":-0.0915,"top":-46.5,"bot":-65},{"p":4,"f":-0.088,"top":-47,"bot":-65},{"p":4,"f":-0.0845,"top":-46.5,"bot":-65},{"p":4,"f":-0.079,"top":-48.2,"bot":-65},{"p":4,"f":-0.0755,"top":-48.5,"bot":-65},{"p":4,"f":-0.072,"top":-50,"bot":-70},{"p":4,"f":-0.067,"top":-52,"bot":-70},{"p":4,"f":-0.0625,"top":-51.5,"bot":-70},{"p":4,"f":-0.0585,"top":-54,"bot":-75},{"p":4,"f":-0.054,"top":-53,"bot":-75},{"p":4,"f":-0.049,"top":-56,"bot":-75},{"p":4,"f":-0.045,"top":-57,"bot":-75},{"p":4,"f":-0.04,"top":-58.5,"bot":-80},{"p":4,"f":-0.0345,"top":-60,"bot":-80},{"p":4,"f":-0.0307,"top":-58.5,"bot":-80},{"p":4,"f":-0.0271,"top":-65.2,"bot":-85},{"p":4,"f":-0.0236,"top":-68.4,"bot":-85},{"p":4,"f":-0.019,"top":-72,"bot":-85},
{"p":4,"f":0.0135,"top":-80,"bot":-90},{"p":4,"f":0.017,"top":-74,"bot":-85},{"p":4,"f":0.0225,"top":-68.4,"bot":-85},{"p":4,"f":0.0267,"top":-65,"bot":-85},{"p":4,"f":0.0295,"top":-58.5,"bot":-80},{"p":4,"f":0.0333,"top":-60.8,"bot":-80},{"p":4,"f":0.0395,"top":-59,"bot":-80},{"p":4,"f":0.044,"top":-58,"bot":-75},{"p":4,"f":0.048,"top":-55,"bot":-75},{"p":4,"f":0.0535,"top":-53,"bot":-75},{"p":4,"f":0.058,"top":-52,"bot":-70},{"p":4,"f":0.0625,"top":-51,"bot":-70},{"p":4,"f":0.067,"top":-49.5,"bot":-70},{"p":4,"f":0.0702,"top":-48.5,"bot":-70},{"p":4,"f":0.075,"top":-48,"bot":-65},{"p":4,"f":0.08,"top":-47,"bot":-65},{"p":4,"f":0.0845,"top":-46.5,"bot":-65},{"p":4,"f":0.089,"top":-46,"bot":-65},{"p":4,"f":0.0935,"top":-45.5,"bot":-65},{"p":4,"f":0.097,"top":-44,"bot":-65},
{"p":4,"f":-0.0996,"top":-65,"bot":-87},{"p":4,"f":-0.0985,"top":-65,"bot":-87},{"p":4,"f":-0.0955,"top":-65,"bot":-91},{"p":4,"f":-0.093,"top":-65,"bot":-84},{"p":4,"f":-0.0875,"top":-65,"bot":-85},{"p":4,"f":-0.0855,"top":-65,"bot":-90},{"p":4,"f":-0.081,"top":-65,"bot":-82},{"p":4,"f":-0.08,"top":-65,"bot":-91},{"p":4,"f":-0.0775,"top":-65,"bot":-85},{"p":4,"f":-0.0735,"top":-70,"bot":-84},{"p":4,"f":-0.0664,"top":-70,"bot":-101},{"p":4,"f":-0.0635,"top":-70,"bot":-90},{"p":4,"f":-0.058,"top":-70,"bot":-90},{"p":4,"f":-0.0535,"top":-70,"bot":-96},{"p":4,"f":-0.0499,"top":-70,"bot":-101},{"p":4,"f":-0.047,"top":-70,"bot":-101},{"p":4,"f":-0.044,"top":-70,"bot":-97},{"p":4,"f":-0.0398,"top":-70,"bot":-101},{"p":4,"f":-0.037,"top":-70,"bot":-101},{"p":4,"f":-0.0303,"top":-70,"bot":-101},{"p":4,"f":-0.0273,"top":-75,"bot":-101},
{"p":4,"f":0.036,"top":-70,"bot":-101},{"p":4,"f":0.042,"top":-70,"bot":-100},{"p":4,"f":0.0475,"top":-70,"bot":-99},{"p":4,"f":0.051,"top":-70,"bot":-101},{"p":4,"f":0.0575,"top":-70,"bot":-94},{"p":4,"f":0.0657,"top":-70,"bot":-101},{"p":4,"f":0.069,"top":-70,"bot":-92},{"p":4,"f":0.073,"top":-70,"bot":-89},{"p":4,"f":0.078,"top":-65,"bot":-88},{"p":4,"f":0.083,"top":-65,"bot":-87},{"p":4,"f":0.088,"top":-65,"bot":-85},{"p":4,"f":0.0925,"top":-65,"bot":-84},{"p":4,"f":0.097,"top":-65,"bot":-85},{"p":4,"f":0.0995,"top":-65,"bot":-88}
]
},
"spacing": 13,
"vconcat": [
{"spacing": 10, "hconcat": [
{"width":351,"height":281,"title":"First Order No Dither","layer":[
{"data":{"name":"band"},"transform":[{"filter":"datum.p==1"}],"mark":{"type":"area","color":"#1f77b4","clip":true},"encoding":{"x":{"field":"f","type":"quantitative","scale":{"domain":[-0.1,0.1],"nice":false,"zero":false},"axis":{"values":[-0.1,-0.075,-0.05,-0.025,0,0.025,0.05,0.075,0.1],"format":".3f"},"title":"Frequency [Hz]"},"y":{"field":"hi","type":"quantitative","scale":{"domain":[-100,0],"nice":false},"axis":{"values":[-100,-80,-60,-40,-20,0],"format":"d"},"title":"Magnitude [dBFS]"},"y2":{"field":"lo"}}},
{"data":{"name":"spk"},"transform":[{"filter":"datum.p==1"}],"mark":{"type":"rule","color":"#1f77b4","clip":true,"strokeWidth":1.8},"encoding":{"x":{"field":"f","type":"quantitative","scale":{"domain":[-0.1,0.1],"nice":false,"zero":false},"axis":{"values":[-0.1,-0.075,-0.05,-0.025,0,0.025,0.05,0.075,0.1],"format":".3f"},"title":"Frequency [Hz]"},"y":{"field":"top","type":"quantitative","scale":{"domain":[-100,0],"nice":false},"axis":{"values":[-100,-80,-60,-40,-20,0],"format":"d"},"title":"Magnitude [dBFS]"},"y2":{"field":"bot"}}}
]},
{"width":351,"height":281,"title":"Second Order No Dither","layer":[
{"data":{"name":"band"},"transform":[{"filter":"datum.p==2"}],"mark":{"type":"area","color":"#1f77b4","clip":true},"encoding":{"x":{"field":"f","type":"quantitative","scale":{"domain":[-0.1,0.1],"nice":false,"zero":false},"axis":{"values":[-0.1,-0.075,-0.05,-0.025,0,0.025,0.05,0.075,0.1],"format":".3f"},"title":"Frequency [Hz]"},"y":{"field":"hi","type":"quantitative","scale":{"domain":[-100,0],"nice":false},"axis":{"values":[-100,-80,-60,-40,-20,0],"format":"d"},"title":"Magnitude [dBFS]"},"y2":{"field":"lo"}}},
{"data":{"name":"spk"},"transform":[{"filter":"datum.p==2"}],"mark":{"type":"rule","color":"#1f77b4","clip":true,"strokeWidth":1.8},"encoding":{"x":{"field":"f","type":"quantitative","scale":{"domain":[-0.1,0.1],"nice":false,"zero":false},"axis":{"values":[-0.1,-0.075,-0.05,-0.025,0,0.025,0.05,0.075,0.1],"format":".3f"},"title":"Frequency [Hz]"},"y":{"field":"top","type":"quantitative","scale":{"domain":[-100,0],"nice":false},"axis":{"values":[-100,-80,-60,-40,-20,0],"format":"d"},"title":"Magnitude [dBFS]"},"y2":{"field":"bot"}}}
]}
]},
{"spacing": 10, "hconcat": [
{"width":351,"height":281,"title":"First Order w/ Dither","layer":[
{"data":{"name":"band"},"transform":[{"filter":"datum.p==3"}],"mark":{"type":"area","color":"#1f77b4","clip":true},"encoding":{"x":{"field":"f","type":"quantitative","scale":{"domain":[-0.1,0.1],"nice":false,"zero":false},"axis":{"values":[-0.1,-0.075,-0.05,-0.025,0,0.025,0.05,0.075,0.1],"format":".3f"},"title":"Frequency [Hz]"},"y":{"field":"hi","type":"quantitative","scale":{"domain":[-100,0],"nice":false},"axis":{"values":[-100,-80,-60,-40,-20,0],"format":"d"},"title":"Magnitude [dBFS]"},"y2":{"field":"lo"}}},
{"data":{"name":"spk"},"transform":[{"filter":"datum.p==3"}],"mark":{"type":"rule","color":"#1f77b4","clip":true,"strokeWidth":1.8},"encoding":{"x":{"field":"f","type":"quantitative","scale":{"domain":[-0.1,0.1],"nice":false,"zero":false},"axis":{"values":[-0.1,-0.075,-0.05,-0.025,0,0.025,0.05,0.075,0.1],"format":".3f"},"title":"Frequency [Hz]"},"y":{"field":"top","type":"quantitative","scale":{"domain":[-100,0],"nice":false},"axis":{"values":[-100,-80,-60,-40,-20,0],"format":"d"},"title":"Magnitude [dBFS]"},"y2":{"field":"bot"}}}
]},
{"width":351,"height":281,"title":"Second Order w/ Dither","layer":[
{"data":{"name":"band"},"transform":[{"filter":"datum.p==4"}],"mark":{"type":"area","color":"#1f77b4","clip":true},"encoding":{"x":{"field":"f","type":"quantitative","scale":{"domain":[-0.1,0.1],"nice":false,"zero":false},"axis":{"values":[-0.1,-0.075,-0.05,-0.025,0,0.025,0.05,0.075,0.1],"format":".3f"},"title":"Frequency [Hz]"},"y":{"field":"hi","type":"quantitative","scale":{"domain":[-100,0],"nice":false},"axis":{"values":[-100,-80,-60,-40,-20,0],"format":"d"},"title":"Magnitude [dBFS]"},"y2":{"field":"lo"}}},
{"data":{"name":"spk"},"transform":[{"filter":"datum.p==4"}],"mark":{"type":"rule","color":"#1f77b4","clip":true,"strokeWidth":1.8},"encoding":{"x":{"field":"f","type":"quantitative","scale":{"domain":[-0.1,0.1],"nice":false,"zero":false},"axis":{"values":[-0.1,-0.075,-0.05,-0.025,0,0.025,0.05,0.075,0.1],"format":".3f"},"title":"Frequency [Hz]"},"y":{"field":"top","type":"quantitative","scale":{"domain":[-100,0],"nice":false},"axis":{"values":[-100,-80,-60,-40,-20,0],"format":"d"},"title":"Magnitude [dBFS]"},"y2":{"field":"bot"}}}
]}
]}
],
"config": {
"font": "DejaVu Sans",
"view": {"stroke": "#000000", "strokeWidth": 1},
"axis": {"domain": false, "grid": true, "gridColor": "#b0b0b0", "gridWidth": 0.8, "tickColor": "#000000", "tickSize": 4, "tickWidth": 1, "labelColor": "#000000", "labelFontSize": 12.3, "labelPadding": 3, "titleColor": "#000000", "titleFontSize": 12.3, "titleFontWeight": "normal", "labelFlush": false, "labelOverlap": false, "labelBound": false},
"axisX": {"titlePadding": 5},
"axisY": {"titlePadding": 9},
"title": {"fontSize": 13.8, "fontWeight": "normal", "color": "#000000", "offset": 1}
}
}
